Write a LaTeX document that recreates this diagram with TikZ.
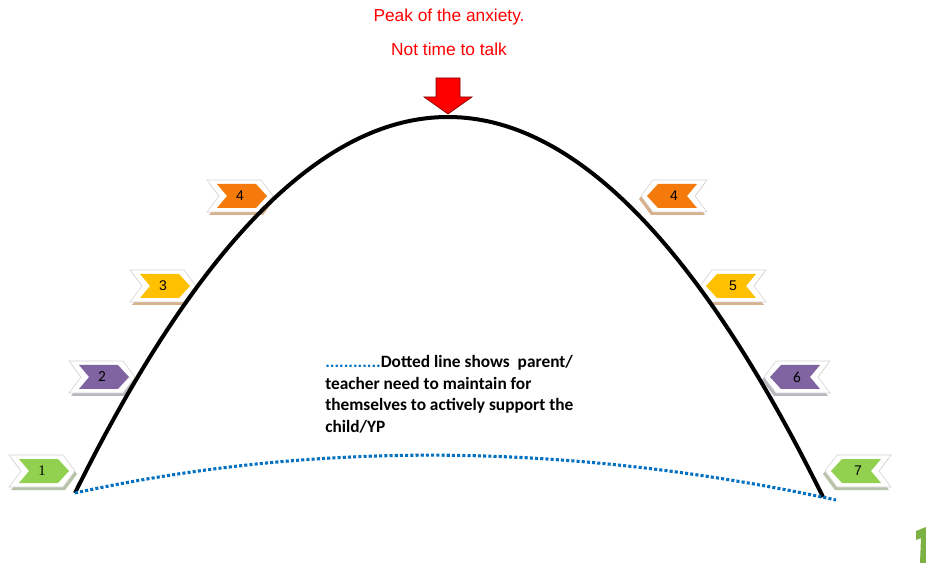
\documentclass[tikz,border=0pt]{standalone}
\usepackage{fontspec}
\setmainfont{Liberation Sans}
\newfontfamily\carlito{Carlito}
\newfontfamily\lserif{Liberation Serif}
\definecolor{cgreen}{HTML}{92D050}
\definecolor{cpurple}{HTML}{8064A2}
\definecolor{cyellow}{HTML}{FFC000}
\definecolor{corange}{HTML}{F47A0C}
\definecolor{shtan}{HTML}{D8B08C}
\definecolor{shgreen}{HTML}{B8C4A8}
\definecolor{shgray}{HTML}{B8B8C0}
\definecolor{dotblue}{HTML}{0070C0}
\newcommand\chev[8]{%
\begin{scope}[shift={(#2,#3)}, xscale=#4]
\fill[#6] (-31,-13) -- (23,-13) -- (35,3) -- (23,19) -- (-31,19) -- (-19,3) -- cycle;
\filldraw[fill=white, draw=gray!35, line width=0.4pt] (-33,-16) -- (21,-16) -- (33,0) -- (21,16) -- (-33,16) -- (-21,0) -- cycle;
\fill[#5] (-23,-12) -- (16,-12) -- (27,0) -- (16,12) -- (-23,12) -- (-13,0) -- cycle;
\end{scope}
\node[numlbl, font=#8] (#1) at (#2,#3) {#7};}
\tikzset{numlbl/.style={inner sep=0pt, text=black}}
\begin{document}
\begin{tikzpicture}[x=0.75pt, y=-0.75pt]
\useasboundingbox (0,0) rectangle (926,563);
\fill[white] (0,0) rectangle (926,563);
% chevrons
\chev{c1}{42}{471}{1}{cgreen}{shgreen}{1}{\lserif\fontsize{11}{12}\selectfont}
\chev{c2}{102}{377}{1}{cpurple}{shgray}{2}{\carlito\fontsize{11.5}{12}\selectfont}
\chev{c3}{163}{286}{1}{cyellow}{shtan}{3}{\fontsize{10.5}{12}\selectfont}
\chev{c4}{240}{196}{1}{corange}{shtan}{4}{\fontsize{10.5}{12}\selectfont}
\chev{c4r}{674}{196}{-1}{corange}{shtan}{4}{\fontsize{10.5}{12}\selectfont}
\chev{c5}{733}{286}{-1}{cyellow}{shtan}{5}{\fontsize{10.5}{12}\selectfont}
\chev{c6}{797}{377}{-1}{cpurple}{shgray}{6}{\carlito\fontsize{11.5}{12}\selectfont}
\chev{c7}{858}{471}{-1}{cgreen}{shgreen}{7}{\fontsize{10.5}{12}\selectfont}
% curves
\coordinate (L) at (75,493);
\coordinate (R) at (823,497);
\coordinate (D) at (836,500);
\draw[line width=3pt, black] (L) .. controls (324,-10) and (574,-8) .. (R);
\draw[line width=2.3pt, dotblue, dash pattern=on 2.3pt off 1.6pt] (L) .. controls (318,440) and (572,443) .. (D);
% red arrow
\filldraw[fill=red, draw=red!50!black, line width=0.5pt] (436,78) -- (460,78) -- (460,97) -- (472,97) -- (448,114) -- (424,97) -- (436,97) -- cycle;
% texts
\node[text=red, font=\fontsize{13}{15}\selectfont] (peak) at (449,17) {Peak of the anxiety.};
\node[text=red, font=\fontsize{13}{15}\selectfont] (talk) at (449,49) {Not time to talk};
\node[anchor=north west, inner sep=0pt, align=left, font=\carlito\bfseries\fontsize{13}{16.2}\selectfont] (note) at (325,355)
 {{\color{dotblue}............}Dotted line shows\ \ parent/\\teacher need to maintain for\\themselves to actively support the\\child/YP};
% green fragment at bottom right
\fill[cgreen!85!black] (916,531) -- (926,527) -- (926,563) -- (920,563) -- (921,538) -- (916,540) -- cycle;
\end{tikzpicture}
\end{document}
